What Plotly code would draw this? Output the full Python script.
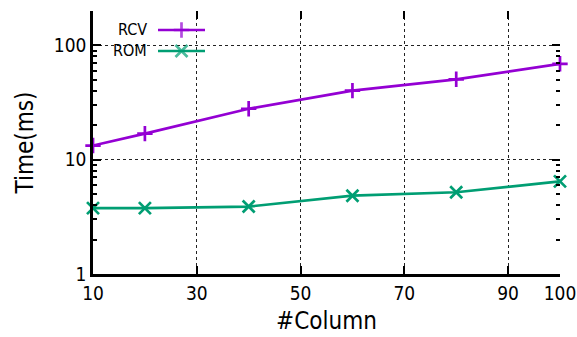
import plotly.graph_objects as go

columns = [10, 20, 40, 60, 80, 100]
rcv_ms = [13.3, 16.9, 27.9, 40.2, 50.5, 69.0]
rom_ms = [3.77, 3.77, 3.89, 4.84, 5.19, 6.46]
series_names = ["RCV", "ROM"]
series_colors = ["#9400D3", "#009E73"]
series_symbols = ["cross-thin", "x-thin"]
series_sizes = [11, 12]
x_ticks = [10, 30, 50, 70, 90, 100]
y_ticks = [1, 10, 100]
y_minor = [2, 3, 4, 5, 6, 7, 8, 9, 20, 30, 40, 50, 60, 70, 80, 90, 200]

FONT = "DejaVu Sans Condensed, DejaVu Sans"
W, H = 577, 337
ML, MR, MT, MB = 93, 17, 11, 63
PW = W - ML - MR
PH = H - MT - MB
XR = [9.999, 100.001]
YR = [0, 2.301]

fig = go.Figure()
for name, vals, col, sym, sz in zip(series_names, [rcv_ms, rom_ms], series_colors, series_symbols, series_sizes):
    fig.add_trace(go.Scatter(
        x=columns, y=vals, name=name, mode="lines+markers",
        line=dict(color=col, width=2.7),
        marker=dict(symbol=sym, size=sz, line=dict(color=col, width=2.7), color=col),
        showlegend=False, cliponaxis=False,
    ))

# manual legend (text left of the sample, gnuplot style)
def px_x(p):
    return (p - ML) / PW
def px_y(p):
    return (H - MB - p) / PH

legend_rows = [30, 51]
for name, col, sym, sz, yy in zip(series_names, series_colors, series_symbols, series_sizes, legend_rows):
    fig.add_trace(go.Scatter(
        x=[px_x(158), px_x(181.5), px_x(205)], y=[px_y(yy)] * 3,
        xaxis="x2", yaxis="y2", mode="lines+markers",
        line=dict(color=col, width=2.7),
        marker=dict(symbol=sym, size=[0, sz, 0], line=dict(color=col, width=2.7), color=col),
        showlegend=False, hoverinfo="skip", cliponaxis=False,
    ))
    fig.add_annotation(x=px_x(149), y=px_y(yy), xref="paper", yref="paper",
                       text=name, showarrow=False, xanchor="right", yanchor="middle",
                       font=dict(family=FONT, size=16, color="black"))

fig.add_shape(type="rect", xref="paper", yref="paper",
              x0=0.004, x1=px_x(213), y0=px_y(60), y1=1,
              fillcolor="white", line=dict(width=0), layer="between")

tick_common = dict(ticks="inside", ticklen=8, tickwidth=2, tickcolor="black",
                   zeroline=False, automargin=False)
minor_common = dict(tickmode="array", tickvals=y_minor, ticks="inside", ticklen=4,
                    tickwidth=1.5, tickcolor="black", showgrid=False)

fig.update_layout(
    width=W, height=H, margin=dict(l=ML, r=MR, t=MT, b=MB),
    paper_bgcolor="white", plot_bgcolor="white",
    font=dict(family=FONT, size=19, color="black"),
    xaxis=dict(
        range=XR, tickmode="array", tickvals=x_ticks, **tick_common,
        showline=True, linecolor="black", linewidth=2.5,
        showgrid=True, gridcolor="#222222", griddash="dot", gridwidth=1,
        tickfont=dict(size=19),
        title=dict(text="#Column", font=dict(size=24), standoff=10),
    ),
    yaxis=dict(
        type="log", range=YR, tickmode="array", tickvals=y_ticks,
        ticktext=[str(v) for v in y_ticks], **tick_common,
        minor=minor_common,
        showline=True, linecolor="black", linewidth=2.5,
        showgrid=True, gridcolor="#222222", griddash="dot", gridwidth=1,
        tickfont=dict(size=19),
        title=dict(text="Time(ms)", font=dict(size=24), standoff=14),
    ),
    xaxis3=dict(
        overlaying="x", side="top", range=XR,
        tickmode="array", tickvals=x_ticks, **tick_common,
        showticklabels=False, showline=False, showgrid=False,
    ),
    yaxis3=dict(
        overlaying="y", side="right", type="log", range=YR,
        tickmode="array", tickvals=y_ticks, **tick_common,
        showticklabels=False, showline=False, showgrid=False,
        minor=minor_common,
    ),
    xaxis2=dict(overlaying="x", range=[0, 1], visible=False, fixedrange=True),
    yaxis2=dict(overlaying="y", range=[0, 1], visible=False, fixedrange=True),
)
# empty trace so the mirrored tick axes render
fig.add_trace(go.Scatter(x=[None], y=[None], xaxis="x3", yaxis="y3", showlegend=False))

fig.write_html("out.html")
